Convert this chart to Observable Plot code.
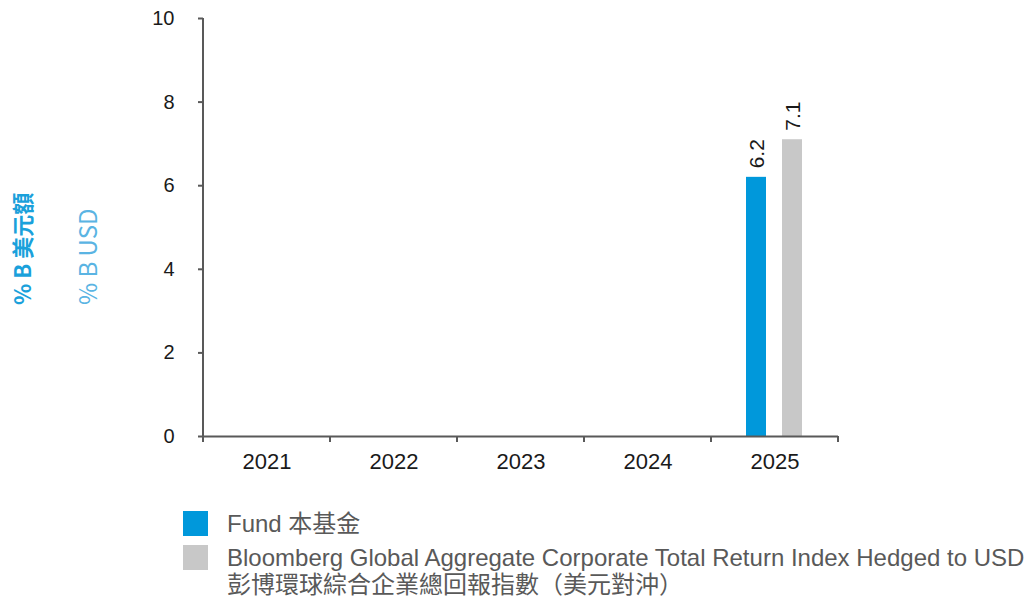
<!DOCTYPE html>
<html>
<head>
<meta charset="utf-8">
<script src="https://cdn.jsdelivr.net/npm/d3@7"></script>
<script src="https://cdn.jsdelivr.net/npm/@observablehq/plot@0.6"></script>
<style>
  body { margin: 0; background: #fff; font-family: "Liberation Sans", Arial, sans-serif; }
  #wrap { position: relative; width: 1029px; height: 597px; overflow: hidden; }
  #chart { position: absolute; left: 0; top: 0; }
  .ylab { position: absolute; transform-origin: 0 0; transform: rotate(-90deg); white-space: nowrap; font-family: "Noto Sans CJK TC", "Open Sans", sans-serif; line-height: 1; }
  #legend { position: absolute; left: 183px; top: 510px; color: #595959; font-size: 24px; font-family: "Liberation Sans", "Noto Sans CJK TC", sans-serif; }
  .item { display: flex; align-items: flex-start; margin-bottom: 7px; }
  .sw { width: 25px; height: 25px; flex: none; margin-right: 19px; margin-top: 1px; }
  .txt { line-height: 27px; white-space: nowrap; }
</style>
</head>
<body>
<div id="wrap">
  <div id="chart"></div>
  <div class="ylab" id="yl1" style="left:10px; top:305px; font-size:22px; color:#1AA1DB; font-weight:bold;"></div>
  <div class="ylab" id="yl2" style="left:75px; top:305px; font-size:24px; color:#5AB4E3;"></div>
  <div id="legend"></div>
</div>
<script>
const years = ["2021", "2022", "2023", "2024", "2025"];
const fundValues = [null, null, null, null, 6.2];
const indexValues = [null, null, null, null, 7.1];
const yTicks = [0, 2, 4, 6, 8, 10];
const fundName = "Fund 本基金";
const indexName = "Bloomberg Global Aggregate Corporate Total Return Index Hedged to USD";
const indexNameZh = "彭博環球綜合企業總回報指數（美元對沖）";
const yLabelZh = "% B 美元額";
const yLabelEn = "% B USD";
const fundColor = "#0098DB";
const indexColor = "#C8C8C8";

const fundRows = years.map((y, i) => ({year: y, value: fundValues[i]})).filter(d => d.value != null);
const indexRows = years.map((y, i) => ({year: y, value: indexValues[i]})).filter(d => d.value != null);

const plot = Plot.plot({
  width: 1029,
  height: 490,
  marginLeft: 203,
  marginRight: 191,
  marginTop: 18,
  marginBottom: 54,
  style: {fontFamily: "'Liberation Sans', Arial, sans-serif", background: "transparent"},
  x: {domain: years, padding: 0, axis: null},
  y: {domain: [0, 10], axis: null},
  marks: [
    Plot.axisY({ticks: yTicks, label: null, tickSize: 5, tickPadding: 24, fontSize: 20, stroke: "#595959", strokeWidth: 2, fill: "#1a1a1a"}),
    Plot.axisX({label: null, tickSize: 0, tickPadding: 17, fontSize: 22, fill: "#1a1a1a"}),
    Plot.barY(fundRows, {x: "year", y: "value", fill: fundColor, insetLeft: 35, insetRight: 72}),
    Plot.barY(indexRows, {x: "year", y: "value", fill: indexColor, insetLeft: 71, insetRight: 36}),
    Plot.text(fundRows, {x: "year", y: "value", text: d => d.value.toFixed(1), rotate: -90, textAnchor: "start", dx: -18, dy: -9, fontSize: 21, fill: "#1a1a1a"}),
    Plot.text(indexRows, {x: "year", y: "value", text: d => d.value.toFixed(1), rotate: -90, textAnchor: "start", dx: 18, dy: -9, fontSize: 21, fill: "#1a1a1a"}),
    Plot.ruleY([0], {stroke: "#595959", strokeWidth: 2})
  ]
});
document.getElementById("chart").appendChild(plot);

// axis line and category boundary ticks drawn from the library's scales
const xs = plot.scale("x"), ys = plot.scale("y");
const svg = d3.select(plot);
const y0 = ys.apply(0), yTop = ys.apply(10);
const bounds = years.map(y => xs.apply(y)).concat([xs.apply(years[years.length - 1]) + xs.bandwidth]);
svg.append("line").attr("x1", bounds[0]).attr("x2", bounds[0]).attr("y1", yTop).attr("y2", y0)
  .attr("stroke", "#595959").attr("stroke-width", 2);
svg.selectAll("line.bt").data(bounds).join("line").attr("class", "bt")
  .attr("x1", d => d).attr("x2", d => d).attr("y1", y0).attr("y2", y0 + 6)
  .attr("stroke", "#595959").attr("stroke-width", 2);

document.getElementById("yl1").textContent = yLabelZh;
document.getElementById("yl2").textContent = yLabelEn;

const legend = document.getElementById("legend");
[[fundColor, [fundName]], [indexColor, [indexName, indexNameZh]]].forEach(([c, lines]) => {
  const it = document.createElement("div"); it.className = "item";
  const sw = document.createElement("div"); sw.className = "sw"; sw.style.background = c;
  const tx = document.createElement("div"); tx.className = "txt";
  lines.forEach((l, i) => { if (i) tx.appendChild(document.createElement("br")); tx.appendChild(document.createTextNode(l)); });
  it.appendChild(sw); it.appendChild(tx); legend.appendChild(it);
});
</script>
</body>
</html>
